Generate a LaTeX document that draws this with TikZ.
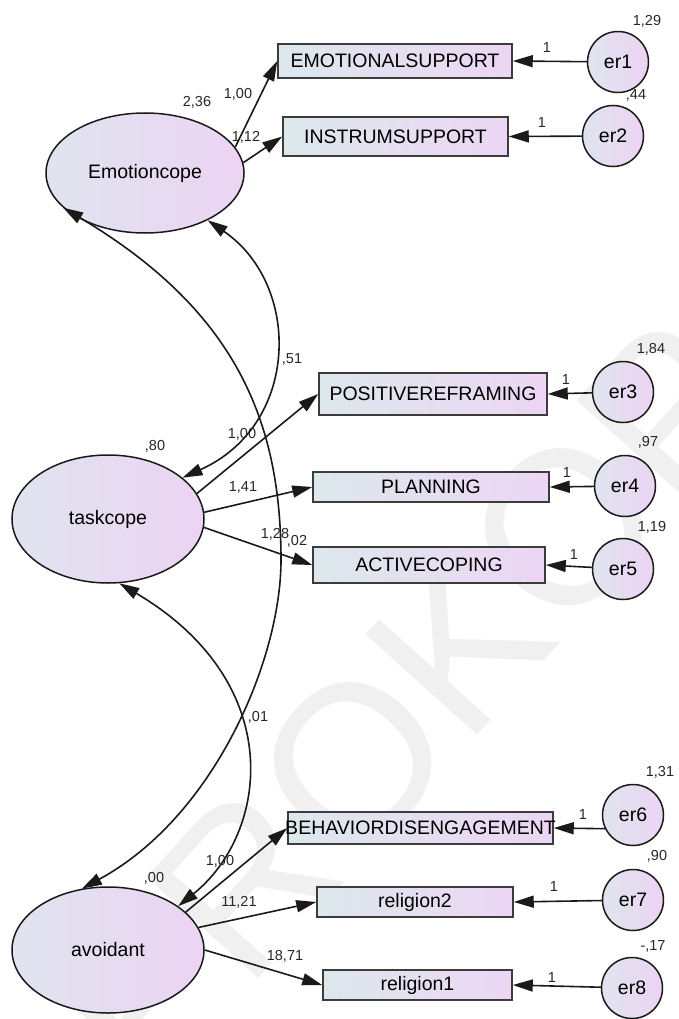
\documentclass[tikz,border=0pt]{standalone}
\usepackage{fontspec}
\setmainfont{Liberation Sans}
\usetikzlibrary{arrows.meta,shapes.geometric}

\definecolor{latL}{HTML}{E0E4EE}
\definecolor{latR}{HTML}{ECD4F3}
\definecolor{obsL}{HTML}{DDE8EC}
\definecolor{obsR}{HTML}{ECD6F4}
\definecolor{edge}{HTML}{1A1A1A}
\definecolor{numtext}{HTML}{262626}
\definecolor{wmgray}{HTML}{F0F0F0}

\begin{document}
\begin{tikzpicture}[x=1pt,y=-1pt,
  latent/.style={ellipse, draw=edge, line width=1.5pt, left color=latL, right color=latR,
    inner sep=0pt, font=\fontsize{19.5}{22}\selectfont},
  obs/.style={rectangle, draw=edge!85, line width=1.5pt, left color=obsL, right color=obsR,
    inner sep=0pt, font=\fontsize{19.5}{22}\selectfont},
  err/.style={circle, draw=edge, line width=1.5pt, left color=latL, right color=latR,
    minimum size=61pt, inner sep=0pt, font=\fontsize{19.5}{22}\selectfont},
  boxtext/.style={inner sep=0pt, font=\fontsize{19.5}{22}\selectfont},
  val/.style={inner sep=0pt, text=numtext, font=\fontsize{14.5}{16}\selectfont},
  tip/.tip={Triangle[length=20pt,width=12pt]},
  path/.style={draw=edge, line width=1.6pt, -tip},
  cov/.style={draw=edge, line width=1.6pt, tip-tip},
  wm/.style={inner sep=0pt, text=wmgray, font=\fontsize{218}{218}\selectfont}
]
\useasboundingbox (0,0) rectangle (679,1019);

% faint watermark lettering behind the model
\begin{scope}
  \clip (0,0) rectangle (679,1019);
  \node[wm, rotate=48] (wmark) at (406,703) {PROKOP};
\end{scope}

% latent factors
\node[latent, minimum width=198pt, minimum height=120pt] (ec) at (145,173) {Emotioncope};
\node[latent, minimum width=192pt, minimum height=128pt] (tc) at (108,519) {taskcope};
\node[latent, minimum width=192pt, minimum height=126pt] (av) at (108,950) {avoidant};

% observed indicators
\node[obs, minimum width=234pt, minimum height=34pt] (b1) at (395,61) {EMOTIONALSUPPORT};
\node[obs, minimum width=225pt, minimum height=39pt] (b2) at (395.5,136.5) {INSTRUMSUPPORT};
\node[obs, minimum width=228pt, minimum height=42pt] (b3) at (433,394) {POSITIVEREFRAMING};
\node[obs, minimum width=236pt, minimum height=30pt] (b4) at (431,487) {PLANNING};
\node[obs, minimum width=232pt, minimum height=36pt] (b5) at (429,565) {ACTIVECOPING};
\node[obs, minimum width=265pt, minimum height=32pt] (b6) at (420.5,828) {};
\node[boxtext] (b6t) at (b6) {BEHAVIORDISENGAGEMENT};
\node[obs, minimum width=196pt, minimum height=30pt] (b7) at (415,902) {religion2};
\node[obs, minimum width=189pt, minimum height=30pt] (b8) at (417.5,985) {religion1};

% error terms
\node[err] (e1) at (618,62) {er1};
\node[err] (e2) at (613,136) {er2};
\node[err] (e3) at (623,392) {er3};
\node[err] (e4) at (625,486) {er4};
\node[err] (e5) at (623,569) {er5};
\node[err] (e6) at (633,815) {er6};
\node[err] (e7) at (633,900) {er7};
\node[err] (e8) at (632,988) {er8};

% error paths
\draw[path] (e1) -- (b1.east);
\draw[path] (e2) -- (b2.east);
\draw[path] (e3) -- (b3.east);
\draw[path] (e4) -- (b4.east);
\draw[path] (e5) -- (b5.east);
\draw[path] (e6.206) -- (b6.east);
\draw[path] (e7) -- (b7.east);
\draw[path] (e8) -- (b8.east);

% factor loadings
\draw[path] (ec.16) -- (b1.west);
\draw[path] (ec.6) -- (b2.west);
\draw[path] (tc.16) -- (b3.west);
\draw[path] (tc.4) -- (b4.west);
\draw[path] (tc.-5) -- (b5.west);
\draw[path] (av.26) -- (b6.west);
\draw[path] (av.14) -- (b7.west);
\draw[path] (av.0) -- (b8.west);

% covariances between factors
\draw[cov] (ec.-37) .. controls (302,285) and (300,425) .. (tc.29);
\draw[cov] (ec.203) .. controls (235,310) and (281,420) .. (281,560)
           .. controls (281,660) and (214,817) .. (av.113);
\draw[cov] (tc.-80) .. controls (288,683) and (269,833) .. (av.32);

% estimates
\node[val] (v1)  at (197,102) {2,36};
\node[val] (v2)  at (238,94)  {1,00};
\node[val] (v3)  at (246,137) {1,12};
\node[val] (v4)  at (647,21)  {1,29};
\node[val] (v5)  at (547,48)  {1};
\node[val] (v6)  at (636,95)  {,44};
\node[val] (v7)  at (542,123) {1};
\node[val] (v8)  at (292,359) {,51};
\node[val] (v9)  at (155,446) {,80};
\node[val] (v10) at (242,434) {1,00};
\node[val] (v11) at (243,487) {1,41};
\node[val] (v12) at (275,534) {1,28};
\node[val] (v13) at (297,541) {,02};
\node[val] (v14) at (651,349) {1,84};
\node[val] (v15) at (566,380) {1};
\node[val] (v16) at (648,442) {,97};
\node[val] (v17) at (567,473) {1};
\node[val] (v18) at (652,527) {1,19};
\node[val] (v19) at (574,555) {1};
\node[val] (v20) at (258,717) {,01};
\node[val] (v21) at (154,878) {,00};
\node[val] (v22) at (220,861) {1,00};
\node[val] (v23) at (239,902) {11,21};
\node[val] (v24) at (285,956) {18,71};
\node[val] (v25) at (660,772) {1,31};
\node[val] (v26) at (583,815) {1};
\node[val] (v27) at (657,856) {,90};
\node[val] (v28) at (554,887) {1};
\node[val] (v29) at (653,946) {-,17};
\node[val] (v30) at (552,977) {1};
\end{tikzpicture}
\end{document}
